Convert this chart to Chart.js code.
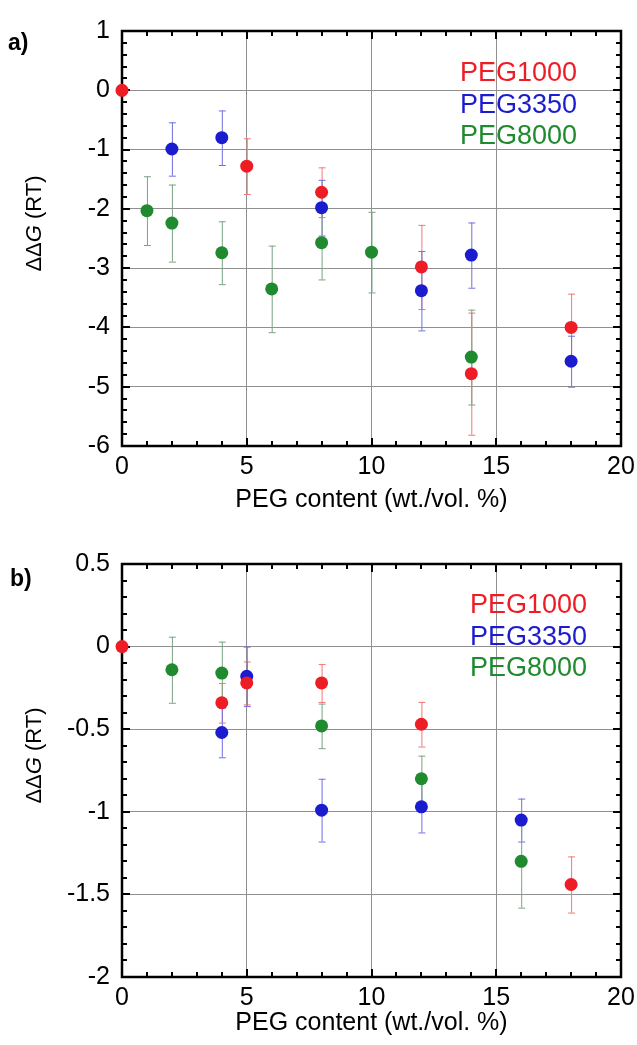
<!DOCTYPE html>
<html>
<head>
<meta charset="utf-8">
<script src="https://cdn.jsdelivr.net/npm/chart.js@4.4.1/dist/chart.umd.min.js"></script>
<style>
  html, body { margin: 0; padding: 0; background: #fff; }
  .panel { position: relative; width: 637px; }
  canvas { display: block; }
</style>
</head>
<body>
<div class="panel"><canvas id="chartA" width="637" height="522"></canvas></div>
<div class="panel"><canvas id="chartB" width="637" height="523"></canvas></div>
<script>
// shared x axis
const xTicks = [0, 5, 10, 15, 20];
const seriesNames = ['PEG1000', 'PEG3350', 'PEG8000'];

// panel a)
const aYTicks = [1, 0, -1, -2, -3, -4, -5, -6];
const aRedX = [0, 5, 8, 12, 14, 18];
const aRedY = [0, -1.28, -1.72, -2.98, -4.78, -4.0];
const aRedErr = [0, 0.47, 0.42, 0.71, 1.03, 0.57];
const aBlueX = [2, 4, 8, 12, 14, 18];
const aBlueY = [-0.99, -0.8, -1.98, -3.38, -2.78, -4.57];
const aBlueErr = [0.45, 0.46, 0.47, 0.67, 0.55, 0.43];
const aGreenX = [1, 2, 4, 6, 8, 10, 14];
const aGreenY = [-2.03, -2.24, -2.74, -3.35, -2.57, -2.73, -4.5];
const aGreenErr = [0.58, 0.65, 0.53, 0.73, 0.62, 0.68, 0.8];

// panel b)
const bYTicks = [0.5, 0, -0.5, -1, -1.5, -2];
const bRedX = [0, 4, 5, 8, 12, 18];
const bRedY = [0, -0.34, -0.22, -0.22, -0.47, -1.44];
const bRedErr = [0, 0.12, 0.13, 0.115, 0.135, 0.17];
const bBlueX = [4, 5, 8, 12, 16];
const bBlueY = [-0.52, -0.18, -0.99, -0.97, -1.05];
const bBlueErr = [0.15, 0.18, 0.19, 0.155, 0.13];
const bGreenX = [2, 4, 8, 12, 16];
const bGreenY = [-0.14, -0.16, -0.48, -0.8, -1.3];
const bGreenErr = [0.2, 0.19, 0.135, 0.14, 0.28];

const FONT = '"Liberation Sans", Arial, Helvetica, sans-serif';
const colors = ['#ee1c25', '#1c1ccf', '#1f8a2e'];
const errColors = ['#f07878', '#7070e0', '#79a383'];

function pts(xs, ys) {
    return xs.map((x, i) => ({ x: x, y: ys[i] }));
}

// error bars, frame and inside ticks drawn after the grid but under the points
const decorPlugin = {
    id: 'decor',
    beforeDatasetsDraw(chart, args, opts) {
        const ctx = chart.ctx;
        const area = chart.chartArea;
        const xs = chart.scales.x, ys = chart.scales.y;

        // error bars
        chart.data.datasets.forEach((ds, di) => {
            ctx.save();
            ctx.strokeStyle = errColors[di];
            ctx.lineWidth = 1;
            ds.data.forEach((p, i) => {
                const e = ds.errors[i];
                if (!e) return;
                const px = xs.getPixelForValue(p.x);
                const top = ys.getPixelForValue(p.y + e);
                const bot = ys.getPixelForValue(p.y - e);
                ctx.beginPath();
                ctx.moveTo(px + 0.5, top); ctx.lineTo(px + 0.5, bot);
                ctx.moveTo(px - 3, top + 0.5); ctx.lineTo(px + 4, top + 0.5);
                ctx.moveTo(px - 3, bot + 0.5); ctx.lineTo(px + 4, bot + 0.5);
                ctx.stroke();
            });
            ctx.restore();
        });

        // inside ticks on all four sides
        ctx.save();
        ctx.strokeStyle = '#000';
        ctx.lineWidth = 2;
        ctx.beginPath();
        for (let v = xs.min; v <= xs.max + 1e-9; v += opts.xMinor) {
            const major = Math.abs(v / opts.xMajor - Math.round(v / opts.xMajor)) < 1e-6;
            const len = major ? 8 : 5;
            const px = Math.round(xs.getPixelForValue(v));
            ctx.moveTo(px, area.bottom); ctx.lineTo(px, area.bottom - len);
            ctx.moveTo(px, area.top); ctx.lineTo(px, area.top + len);
        }
        for (let v = ys.min; v <= ys.max + 1e-9; v += opts.yMinor) {
            const major = Math.abs(v / opts.yMajor - Math.round(v / opts.yMajor)) < 1e-6;
            const len = major ? 8 : 5;
            const py = Math.round(ys.getPixelForValue(v));
            ctx.moveTo(area.left, py); ctx.lineTo(area.left + len, py);
            ctx.moveTo(area.right, py); ctx.lineTo(area.right - len, py);
        }
        ctx.stroke();
        ctx.lineWidth = 2.5;
        ctx.strokeRect(area.left, area.top, area.right - area.left, area.bottom - area.top);
        ctx.restore();
    },
    afterDraw(chart, args, opts) {
        const ctx = chart.ctx;
        const area = chart.chartArea;
        ctx.save();
        // panel letter
        ctx.fillStyle = '#000';
        ctx.font = 'bold 23px ' + FONT;
        ctx.textAlign = 'left';
        ctx.textBaseline = 'middle';
        ctx.fillText(opts.letter, opts.letterX, opts.letterY);

        // legend text
        ctx.font = '27px ' + FONT;
        seriesNames.forEach((name, i) => {
            ctx.fillStyle = colors[i];
            ctx.fillText(name, opts.legendX, opts.legendY + i * 31.5);
        });

        // y title with italic G
        ctx.translate(35, (area.top + area.bottom) / 2 - 15);
        ctx.rotate(-Math.PI / 2);
        ctx.fillStyle = '#000';
        ctx.textBaseline = 'middle';
        const parts = [['\u0394\u0394', '22px ' + FONT], ['G', 'italic 22px ' + FONT], [' (RT)', '22px ' + FONT]];
        let total = 0;
        parts.forEach(p => { ctx.font = p[1]; total += ctx.measureText(p[0]).width; });
        let x = -total / 2;
        parts.forEach(p => {
            ctx.font = p[1];
            ctx.fillText(p[0], x, 0);
            x += ctx.measureText(p[0]).width;
        });
        ctx.restore();
    }
};

function makePanel(id, cfg) {
    const ctx = document.getElementById(id).getContext('2d');
    return new Chart(ctx, {
        type: 'scatter',
        data: {
            datasets: cfg.series.map((s, i) => ({
                label: seriesNames[i],
                data: pts(s[0], s[1]),
                errors: s[2],
                backgroundColor: colors[i],
                borderWidth: 0,
                pointRadius: 6.5,
                pointHoverRadius: 6.5,
                clip: false
            }))
        },
        options: {
            responsive: false,
            animation: false,
            events: [],
            layout: { padding: { top: cfg.top, right: 16, bottom: 0, left: 0 } },
            plugins: {
                legend: { display: false },
                tooltip: { enabled: false },
                decor: cfg.decor
            },
            scales: {
                x: {
                    type: 'linear',
                    min: 0, max: 20,
                    afterBuildTicks: s => { s.ticks = xTicks.map(v => ({ value: v })); },
                    afterFit: s => { s.height = cfg.xHeight; s.paddingLeft = 0; s.paddingRight = 0; },
                    ticks: {
                        color: '#000', padding: 6, maxRotation: 0,
                        font: { family: FONT, size: 25 },
                        callback: v => String(v)
                    },
                    grid: { color: '#909090', lineWidth: 1, drawTicks: false },
                    border: { display: false },
                    title: {
                        display: true,
                        text: 'PEG content (wt./vol. %)',
                        color: '#000',
                        font: { family: FONT, size: 25 },
                        padding: { top: 0, bottom: 7 }
                    }
                },
                y: {
                    type: 'linear',
                    min: cfg.yMin, max: cfg.yMax,
                    afterBuildTicks: s => { s.ticks = cfg.yTicks.map(v => ({ value: v })); },
                    afterFit: s => { s.width = 122; s.paddingTop = 0; s.paddingBottom = 0; },
                    ticks: {
                        color: '#000', padding: 12,
                        font: { family: FONT, size: 25 },
                        callback: v => String(v)
                    },
                    grid: { color: '#909090', lineWidth: 1, drawTicks: false },
                    border: { display: false }
                }
            }
        },
        plugins: [decorPlugin]
    });
}

makePanel('chartA', {
    top: 31, xHeight: 76,
    yMin: -6, yMax: 1, yTicks: aYTicks,
    series: [[aRedX, aRedY, aRedErr], [aBlueX, aBlueY, aBlueErr], [aGreenX, aGreenY, aGreenErr]],
    decor: { xMajor: 5, xMinor: 1, yMajor: 1, yMinor: 0.2,
             letter: 'a)', letterX: 8, letterY: 44, legendX: 460, legendY: 74 }
});

makePanel('chartB', {
    top: 42, xHeight: 68,
    yMin: -2, yMax: 0.5, yTicks: bYTicks,
    series: [[bRedX, bRedY, bRedErr], [bBlueX, bBlueY, bBlueErr], [bGreenX, bGreenY, bGreenErr]],
    decor: { xMajor: 5, xMinor: 1, yMajor: 0.5, yMinor: 0.1,
             letter: 'b)', letterX: 10, letterY: 58, legendX: 470, legendY: 84 }
});
</script>
</body>
</html>
